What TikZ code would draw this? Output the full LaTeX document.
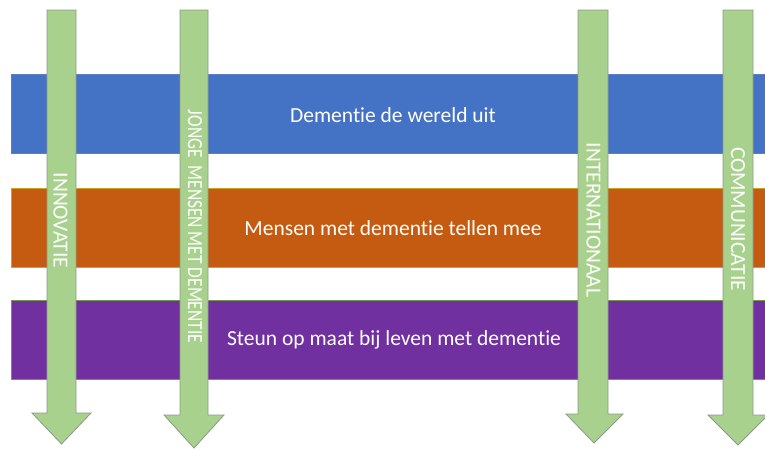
\documentclass[tikz,border=0pt]{standalone}
\usepackage{fontspec}
\setmainfont[Ligatures=NoCommon]{Carlito}
\definecolor{bandblue}{HTML}{4472C4}
\definecolor{bandblueline}{HTML}{5B7FC0}
\definecolor{bandorange}{HTML}{C55A11}
\definecolor{bandorangeline}{HTML}{C9A227}
\definecolor{bandpurple}{HTML}{7030A0}
\definecolor{bandpurpleline}{HTML}{6E9A4A}
\definecolor{arrowgreen}{HTML}{A9D18E}
\definecolor{arrowline}{HTML}{8E9A88}
\tikzset{
  bandtext/.style={text=white, font=\fontsize{21.5}{24}\selectfont, inner sep=0pt},
  arrowtext/.style={text=white, font=\fontsize{21.5}{24}\selectfont, inner sep=0pt, rotate=-90},
  greenarrow/.style={fill=arrowgreen, draw=arrowline, line width=0.8pt, line join=miter},
}
\begin{document}
\begin{tikzpicture}[x=1pt,y=-1pt]
\useasboundingbox (0,0) rectangle (765,450);
\fill[white] (0,0) rectangle (765,450);
% bands
\path[fill=bandblue, draw=bandblueline, line width=0.6pt] (11,74) rectangle (768,153);
\path[fill=bandorange, draw=bandorangeline, line width=0.6pt] (11,188) rectangle (768,267);
\path[fill=bandpurple, draw=bandpurpleline, line width=0.6pt] (11,300) rectangle (768,379);
\node[bandtext] (b1) at (393,115) {Dementie de wereld uit};
\node[bandtext] (b2) at (393,228) {Mensen met dementie tellen mee};
\node[bandtext] (b3) at (394,340) {Steun op maat bij leven met dementie};
% arrows
\path[greenarrow] (47,10) -- (76,10) -- (76,413) -- (91,413) -- (61.5,444) -- (32,413) -- (47,413) -- cycle;
\path[greenarrow] (180,10) -- (208,10) -- (208,415) -- (224,415) -- (194,448) -- (164,415) -- (180,415) -- cycle;
\path[greenarrow] (578,10) -- (608,10) -- (608,414) -- (623,414) -- (594,443) -- (566,414) -- (578,414) -- cycle;
\path[greenarrow] (723,10) -- (753,10) -- (753,415) -- (768,415) -- (738,445) -- (708,415) -- (723,415) -- cycle;
\node[arrowtext] (a1) at (60.5,220.5) {INNOVATIE};
\node[arrowtext] (a2) at (195,226.5) {\scalebox{0.81}[1]{JONGE\ \ MENSEN MET DEMENTIE}};
\node[arrowtext] (a3) at (593.5,220) {INTERNATIONAAL};
\node[arrowtext] (a4) at (738,219) {COMMUNICATIE};
\end{tikzpicture}
\end{document}
